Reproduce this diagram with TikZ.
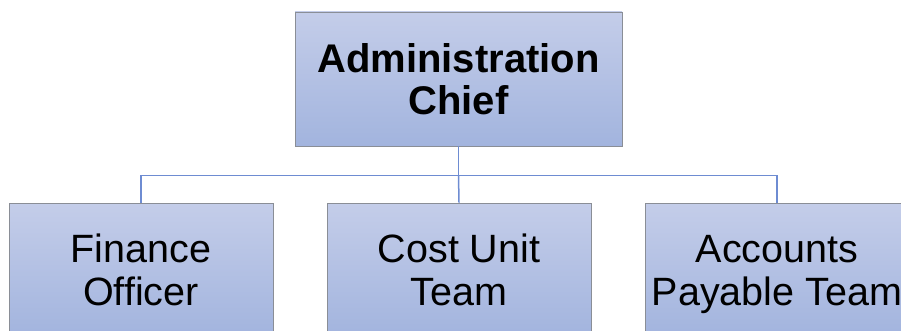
\documentclass[tikz,border=0pt]{standalone}
\usepackage{fontspec}
\setmainfont{Liberation Sans}
\usetikzlibrary{positioning}
\definecolor{boxtop}{HTML}{C4CDE9}
\definecolor{boxbot}{HTML}{A2B4DE}
\definecolor{boxline}{HTML}{8A8E96}
\definecolor{linkblue}{HTML}{6E8CD2}

\begin{document}
\begin{tikzpicture}[x=1pt,y=-1pt,
    post/.style={draw=boxline, line width=0.8pt, top color=boxtop, bottom color=boxbot, align=center, inner sep=0pt},
    chiefbox/.style={post, minimum width=327pt, minimum height=134pt, font=\fontsize{40}{42}\selectfont\bfseries},
    staffbox/.style={post, minimum width=264pt, minimum height=134pt, font=\fontsize{39.5}{43}\selectfont},
    link/.style={draw=linkblue, line width=1.5pt}]
    % page frame (lower boxes run off the edge)
    \clip (0,0) rectangle (901,331);
    % head of the unit
    \node[chiefbox] (chief) at (458.5,79) {Administration\\Chief};
    % teams
    \node[staffbox] (fin)  at (141,270) {Finance\\Officer};
    \node[staffbox] (cost) at (459,270) {Cost Unit\\Team};
    \node[staffbox] (pay)  at (777,270) {Accounts\\\smash{Payable Team}};
    % connectors
    \draw[link] (chief.south) -- ++(0,29) coordinate (split);
    \draw[link] (fin.north) |- (split) -| (pay.north);
    \draw[link] (split) -- (cost.north);
\end{tikzpicture}
\end{document}
